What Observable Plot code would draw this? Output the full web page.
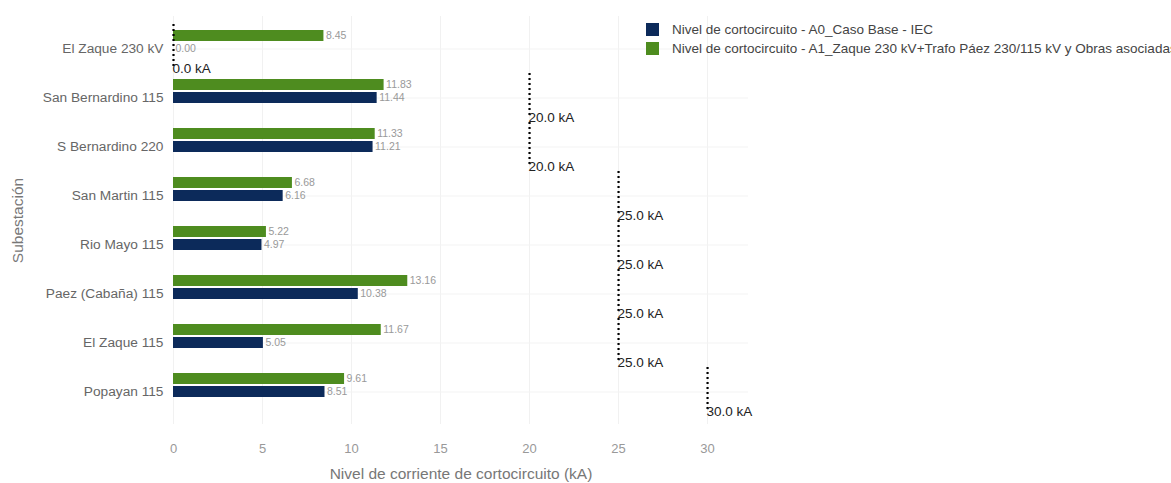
<!DOCTYPE html>
<html>
<head>
<meta charset="utf-8">
<script src="https://cdn.jsdelivr.net/npm/d3@7"></script>
<script src="https://cdn.jsdelivr.net/npm/@observablehq/plot@0.6"></script>
<style>
  html, body { margin: 0; padding: 0; background: #fff; overflow: hidden; }
  #wrap { position: relative; width: 1171px; height: 483px; overflow: hidden; }
  #legend { position: absolute; left: 646px; top: 20px; font-family: "Liberation Sans", Arial, sans-serif; font-size: 13.5px; color: #444; white-space: nowrap; }
  #legend .row { display: flex; align-items: center; height: 19px; }
  #legend .sw { width: 13px; height: 13px; margin-right: 13px; }
</style>
</head>
<body>
<div id="wrap">
  <div id="chart"></div>
  <div id="legend"></div>
</div>
<script>
const categories = ["El Zaque 230 kV", "San Bernardino 115", "S Bernardino 220", "San Martin 115", "Rio Mayo 115", "Paez (Cabaña) 115", "El Zaque 115", "Popayan 115"];
const seriesA0 = [0.00, 11.44, 11.21, 6.16, 4.97, 10.38, 5.05, 8.51];
const seriesA1 = [8.45, 11.83, 11.33, 6.68, 5.22, 13.16, 11.67, 9.61];
const limits = [0, 20, 20, 25, 25, 25, 25, 30];
const seriesNames = ["Nivel de cortocircuito - A0_Caso Base - IEC", "Nivel de cortocircuito - A1_Zaque 230 kV+Trafo Páez 230/115 kV y Obras asociadas"];
const xTicks = [0, 5, 10, 15, 20, 25, 30];
const xTitle = "Nivel de corriente de cortocircuito (kA)";
const yTitle = "Subestación";

const colA0 = "#0c2a5a";
const colA1 = "#4e8c1f";
const font = "'Liberation Sans', Arial, sans-serif";

const rows = categories.map((c, i) => ({cat: c, a0: seriesA0[i], a1: seriesA1[i], lim: limits[i]}));

const chart = Plot.plot({
  width: 1171,
  height: 483,
  marginLeft: 173,
  marginRight: 423,
  marginTop: 16,
  marginBottom: 59,
  style: {fontFamily: font, background: "#fff"},
  x: {domain: [0, 32.3], ticks: xTicks},
  y: {domain: categories, padding: 0.235, align: 0.5},
  marks: [
    Plot.gridX(xTicks, {stroke: "#f1f1f1", strokeOpacity: 1}),
    Plot.gridY({stroke: "#f3f3f3", strokeOpacity: 1}),
    Plot.barX(rows, {x: "a1", y: "cat", fill: colA1, insetTop: 0, insetBottom: 26}),
    Plot.barX(rows, {x: "a0", y: "cat", fill: colA0, insetTop: 13, insetBottom: 13}),
    Plot.text(rows, {x: "a1", y: "cat", dy: -13, dx: 2, text: d => d3.format(".2f")(d.a1), textAnchor: "start", fontSize: 10.5, fill: "#999"}),
    Plot.text(rows, {x: "a0", y: "cat", dy: 0, dx: 2, text: d => d3.format(".2f")(d.a0), textAnchor: "start", fontSize: 10.5, fill: "#999"}),
    Plot.tickX(rows, {x: "lim", y: "cat", stroke: "#000", strokeWidth: 2.2, strokeDasharray: "2,3", strokeOpacity: 1, insetTop: -6, insetBottom: 0}),
    Plot.text(rows, {x: "lim", y: "cat", dy: 19.5, dx: -1, text: d => d.lim.toFixed(1) + " kA", textAnchor: "start", fontSize: 13.5, fill: "#222"}),
    Plot.axisX(xTicks, {anchor: "bottom", tickSize: 0, tickPadding: 19, fontSize: 13, fill: "#999", label: null, tickFormat: d => String(d)}),
    Plot.axisY({anchor: "left", tickSize: 0, tickPadding: 10, fontSize: 13.7, fill: "#666", label: null}),
    Plot.text([xTitle], {frameAnchor: "bottom", dy: 54, fontSize: 15.5, fill: "#777"}),
    Plot.text([yTitle], {frameAnchor: "left", dx: -155, rotate: -90, textAnchor: "middle", fontSize: 15.5, fill: "#777", letterSpacing: "1.5px"})
  ]
});
document.getElementById("chart").appendChild(chart);

const legend = document.getElementById("legend");
[[colA0, seriesNames[0]], [colA1, seriesNames[1]]].forEach(([c, t]) => {
  const row = document.createElement("div");
  row.className = "row";
  const sw = document.createElement("span");
  sw.className = "sw";
  sw.style.background = c;
  const tx = document.createElement("span");
  tx.textContent = t;
  row.appendChild(sw);
  row.appendChild(tx);
  legend.appendChild(row);
});
</script>
</body>
</html>
